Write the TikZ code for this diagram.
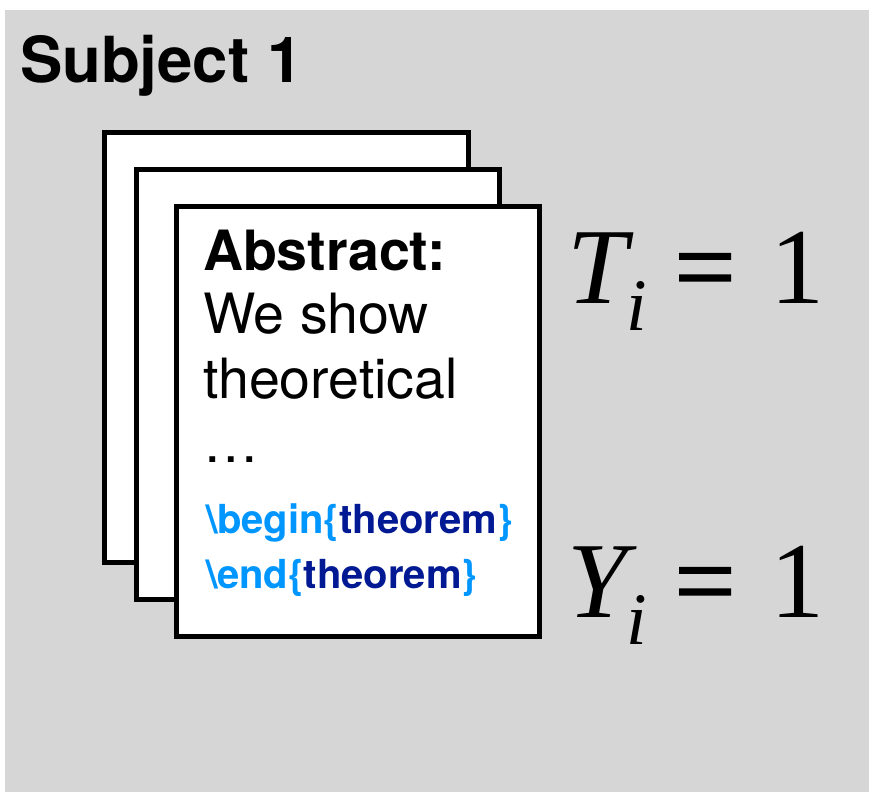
\documentclass[tikz,border=0pt]{standalone}
\usepackage{fontspec}
\setmainfont{TeX Gyre Heros}
\newfontfamily\timesf{Liberation Serif}
\newfontfamily\timesbf[FakeBold=1.6]{Liberation Serif}
\definecolor{bggray}{RGB}{214,214,214}
\definecolor{texblue}{RGB}{0,150,255}
\definecolor{texnavy}{RGB}{1,25,147}
\tikzset{
  page/.style={draw=black, fill=white, line width=5pt},
  txt/.style={anchor=base west, inner sep=0pt, outer sep=0pt},
}
\newcommand{\eqline}[1]{\timesf\fontsize{108}{108}\selectfont\itshape #1\kern-1pt\raisebox{-27pt}{\fontsize{74}{74}\selectfont i}\kern 28pt{\timesbf\upshape=}\kern 35pt\upshape 1}
\begin{document}
\begin{tikzpicture}[x=1pt,y=-1pt]
\useasboundingbox (0,0) rectangle (869,792);
\fill[bggray] (5,10) rectangle (869,792);
\node[txt] (title) at (20,82) {\fontsize{63.5}{63.5}\selectfont\bfseries Subject 1};
\draw[page] (104.5,132.5) rectangle (468,562) coordinate (p1);
\draw[page] (136.5,169.5) rectangle (499.5,599.5) coordinate (p2);
\draw[page] (176,206.5) rectangle (539.5,636) coordinate (p3);
\node[txt] (abs) at (203,270) {\fontsize{55.5}{55.5}\selectfont\bfseries Abstract:};
\node[txt] (l1) at (203,333) {\fontsize{55.5}{55.5}\selectfont We show};
\node[txt] (l2) at (203,398) {\fontsize{55.5}{55.5}\selectfont theoretical};
\node[txt] (l3) at (203,462) {\fontsize{55.5}{55.5}\selectfont …};
\node[txt] (b1) at (206,533) {\fontsize{40}{40}\selectfont\bfseries\color{texblue}\textbackslash begin\{\textcolor{texnavy}{theorem}\}};
\node[txt] (b2) at (206,588) {\fontsize{40}{40}\selectfont\bfseries\color{texblue}\textbackslash end\{\textcolor{texnavy}{theorem}\}};
\node[txt] (teq) at (567,303) {\eqline{T}};
\node[txt] (yeq) at (567,617) {\eqline{Y}};
\end{tikzpicture}
\end{document}
